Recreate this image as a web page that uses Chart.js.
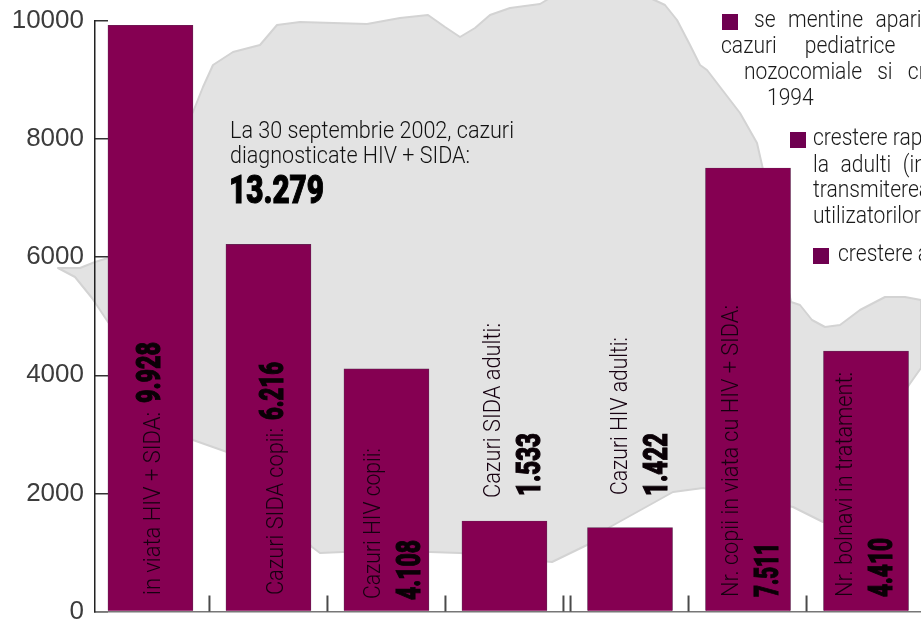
<!DOCTYPE html>
<html><head><meta charset="utf-8">
<style>html,body{margin:0;padding:0;background:#fff;overflow:hidden}#w{position:relative;width:921px;height:623px}</style>
<script src="https://cdn.jsdelivr.net/npm/chart.js@4"></script>
</head><body><div id="w"><canvas id="c" width="921" height="623"></canvas></div>
<script>
const categories = ["in viata HIV + SIDA:","Cazuri SIDA copii:","Cazuri HIV copii:","Cazuri SIDA adulti:","Cazuri HIV adulti:","Nr. copii in viata cu HIV + SIDA:","Nr. bolnavi in tratament:"];
const values = [9928,6216,4108,1533,1422,7511,4410];
const valueLabels = ["9.928","6.216","4.108","1.533","1.422","7.511","4.410"];
const barSlots = [0,1,2,3,4.064,5.064,6.064];
const axisMarks = [0.5,1.5,2.5,3.5,3.56,4.56,5.56];
const yTicks = [0,2000,4000,6000,8000,10000];
const headline = ["La 30 septembrie 2002, cazuri","diagnosticate HIV + SIDA:"];
const headlineValue = "13.279";
const notes = ["se mentine aparitia","cazuri pediatrice cu","nozocomiale si crestere","1994","crestere rapida","la adulti (in","transmiterea","utilizatorilor","crestere a"];

/* layout only: offsets from each bar's centre, and from the top-left of the page */
const labelLayout = [
 {dx:9.5,y:595,w:183,vdx:9.5,vy:403,vw:61},
 {dx:14.5,y:595,w:167,vdx:14.5,vy:420,vw:58},
 {dx:-6.5,y:599,w:151,vdx:33.5,vy:600,vw:60},
 {dx:-4.5,y:498,w:175,vdx:35.5,vy:496,vw:63},
 {dx:-3,y:495,w:158,vdx:37,vy:496,vw:63},
 {dx:-10,y:597,w:292,vdx:30,vy:597,vw:54},
 {dx:-14.5,y:597,w:225,vdx:25.5,vy:597,vw:59}
];
const noteLayout = [
 {x:754,y:27,ws:8},{x:721,y:53,ws:25},{x:744,y:79,ws:11},{x:767,y:105,ws:0},
 {x:813,y:145,ws:0},{x:813,y:172,ws:7},{x:813,y:197,ws:0},{x:813,y:223,ws:0},{x:838,y:261,ws:0}
];
const squares = [[722,14],[790,132],[813,248]];
const mapOutline = [[108,258],[95,262],[80,268],[58,268],[75,277],[92,298],[108,322],[193,440],[227,452],[312,547],[320,553],[343,552],[430,552],[460,553],[552,562],[587,545],[610,527],[673,492],[703,488],[793,507],[823,522],[909,385],[921,368],[921,300],[905,297],[885,297],[860,310],[840,325],[825,327],[812,320],[800,305],[791,302],[762,165],[757,143],[740,113],[707,70],[700,65],[690,45],[677,20],[665,5],[650,-2],[550,-2],[540,4],[510,8],[490,15],[475,28],[460,37],[445,27],[428,15],[400,18],[367,24],[300,22],[277,25],[260,45],[233,52],[213,65],[203,87],[193,112]];

const BAR = "#850052", SQ = "#6f0050", LIGHT = 'Roboto,"Liberation Sans"';

function fitted(ctx, text, x, y, font, width, color, rotate, heavy) {
  ctx.save();
  ctx.font = font; ctx.fillStyle = color;
  ctx.textBaseline = "alphabetic"; ctx.textAlign = "left";
  const sx = width / ctx.measureText(text).width;
  ctx.translate(x, y);
  if (rotate) ctx.rotate(-Math.PI/2);
  ctx.scale(sx, 1);
  ctx.fillText(text, 0, 0);
  if (heavy) { ctx.strokeStyle = color; ctx.lineWidth = 1.1; ctx.strokeText(text, 0, 0); }
  ctx.restore();
}

const mapPlugin = { id:"map", beforeDraw(chart){
  const ctx = chart.ctx;
  ctx.save();
  ctx.filter = "blur(0.7px)";
  ctx.beginPath();
  mapOutline.forEach((p,i)=> i ? ctx.lineTo(p[0],p[1]) : ctx.moveTo(p[0],p[1]));
  ctx.closePath();
  ctx.fillStyle = "#e3e3e3"; ctx.fill();
  ctx.strokeStyle = "#d3d3d3"; ctx.lineWidth = 2; ctx.lineJoin = "round"; ctx.stroke();
  ctx.restore();
}};

const marksPlugin = { id:"marks", afterDraw(chart){
  const ctx = chart.ctx, s = chart.scales.x, bottom = chart.chartArea.bottom;
  ctx.save();
  ctx.strokeStyle = "#4a4a4a"; ctx.lineWidth = 2;
  axisMarks.forEach(v=>{ const px = s.getPixelForValue(v);
    ctx.beginPath(); ctx.moveTo(px,bottom); ctx.lineTo(px,bottom-16); ctx.stroke(); });
  ctx.restore();
}};

const textPlugin = { id:"texts", afterDatasetsDraw(chart){
  const ctx = chart.ctx, meta = chart.getDatasetMeta(0);
  meta.data.forEach((bar,i)=>{
    const L = labelLayout[i];
    fitted(ctx, categories[i], bar.x+L.dx, L.y, '300 24px '+LIGHT, L.w, "#160010", true, false);
    fitted(ctx, valueLabels[i], bar.x+L.vdx, L.vy, '900 34px '+LIGHT, L.vw, "#0a0006", true, true);
  });
  fitted(ctx, headline[0], 230, 138, '300 23px '+LIGHT, 284, "#111", false, false);
  fitted(ctx, headline[1], 230, 163, '300 23px '+LIGHT, 240, "#111", false, false);
  fitted(ctx, headlineValue, 229, 203, '900 39px '+LIGHT, 95, "#000", false, true);
  ctx.save();
  ctx.fillStyle = SQ;
  squares.forEach(s=>ctx.fillRect(s[0],s[1],16,16));
  ctx.restore();
  notes.forEach((t,i)=>{ const n = noteLayout[i];
    ctx.save();
    ctx.fillStyle = "#1a1a1a"; ctx.font = '300 23px '+LIGHT; ctx.textBaseline = "alphabetic";
    ctx.translate(n.x,n.y); ctx.scale(0.915,1);
    ctx.wordSpacing = n.ws+"px"; ctx.fillText(t,0,0);
    ctx.restore();
  });
}};

new Chart(document.getElementById("c"),{
  type:"bar",
  data:{ datasets:[{ data: barSlots.map((x,i)=>({x,y:values[i]})),
    backgroundColor:BAR, borderColor:"#5e2a52", borderWidth:0.7, barThickness:85 }]},
  options:{
    responsive:false, animation:false,
    layout:{padding:{top:21,bottom:11.5,left:0,right:0}},
    plugins:{legend:{display:false},tooltip:{enabled:false}},
    scales:{
      x:{ type:"linear", min:-0.47, max:6.53, offset:false,
        afterFit(s){ s.height = 0; s.paddingLeft = s.paddingRight = s.paddingTop = s.paddingBottom = 0; },
        grid:{display:false},
        border:{color:"#777", width:1.5},
        ticks:{display:false}
      },
      y:{ min:0, max:10000,
        afterBuildTicks(s){ s.ticks = yTicks.map(value=>({value})); },
        afterFit(s){ s.width = 95; s.paddingLeft = s.paddingRight = s.paddingTop = s.paddingBottom = 0; },
        grid:{drawOnChartArea:false, drawTicks:true, tickLength:-13, color:"#333", lineWidth:1.5},
        border:{color:"#222", width:1.5},
        ticks:{ color:"#3c3c3c", padding:24, font:{family:'"Liberation Sans"',size:26}, maxRotation:0, autoSkip:false, callback:v=>String(v) }
      }
    }
  },
  plugins:[mapPlugin,textPlugin,marksPlugin]
});
</script></body></html>
